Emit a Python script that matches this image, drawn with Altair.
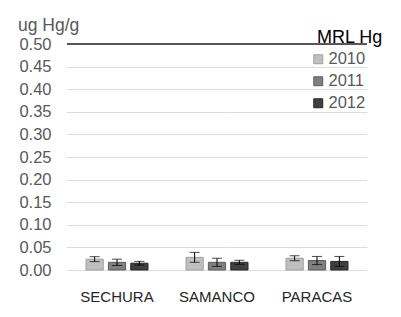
import altair as alt
import pandas as pd

sites = ["SECHURA", "SAMANCO", "PARACAS"]
years = ["2010", "2011", "2012"]
means = {
    "SECHURA": [0.024, 0.017, 0.015],
    "SAMANCO": [0.028, 0.017, 0.017],
    "PARACAS": [0.026, 0.021, 0.019],
}
errs = {
    "SECHURA": [0.0055, 0.007, 0.004],
    "SAMANCO": [0.011, 0.009, 0.0045],
    "PARACAS": [0.0055, 0.009, 0.011],
}
mrl_value = 0.50
mrl_label = "MRL Hg"
y_title = "ug Hg/g"
y_ticks = [0.00, 0.05, 0.10, 0.15, 0.20, 0.25, 0.30, 0.35, 0.40, 0.45, 0.50]
colors = ["#bfbfbf", "#7f7f7f", "#404040"]
strokes = ["#a0a0a0", "#5e5e5e", "#262626"]

rows = []
for s in sites:
    for i, y in enumerate(years):
        m = means[s][i]
        e = errs[s][i]
        rows.append({"site": s, "year": y, "value": m, "lo": m - e, "hi": m + e})
df = pd.DataFrame(rows)

xenc = alt.X("site:N", sort=sites, title=None,
             scale=alt.Scale(paddingInner=0.38, paddingOuter=0.19),
             axis=alt.Axis(labelFontSize=15, labelColor="#262626", labelFont="Liberation Sans",
                           ticks=False, domain=False, labelPadding=19, labelAngle=0))
xoff = alt.XOffset("year:N", sort=years, scale=alt.Scale(paddingInner=0.23, paddingOuter=0))
yscale = alt.Scale(domain=[0, 0.5], nice=False)
yaxis = alt.Axis(values=y_ticks, format=".2f",
                 labelFontSize=16.5, labelColor="#595959", labelFont="Liberation Sans",
                 labelOverlap=False, labelBound=False,
                 ticks=False, domain=False, labelPadding=16,
                 grid=True, gridColor="#b8b8b8", gridDash=[1, 1])

bars = alt.Chart(df).mark_bar(strokeWidth=1).encode(
    x=xenc,
    xOffset=xoff,
    y=alt.Y("value:Q", scale=yscale, title=None, axis=yaxis),
    fill=alt.Fill("year:N", sort=years, scale=alt.Scale(domain=years, range=colors),
                  legend=alt.Legend(title=None, orient="none", legendX=243, legendY=7,
                                    labelFontSize=16.5, labelColor="#595959", labelFont="Liberation Sans",
                                    symbolType="square", symbolSize=80, symbolStrokeWidth=1,
                                    symbolStrokeColor="#6a6a6a",
                                    rowPadding=5, labelOffset=2)),
    stroke=alt.Stroke("year:N", sort=years, scale=alt.Scale(domain=years, range=strokes), legend=None),
)

err_rule = alt.Chart(df).mark_rule(color="#000000", strokeWidth=1).encode(
    x=alt.X("site:N", sort=sites), xOffset=xoff,
    y=alt.Y("lo:Q", scale=yscale, title=None, axis=yaxis), y2="hi:Q",
)
cap_hi = alt.Chart(df).mark_tick(color="#000000", thickness=1, size=10, orient="horizontal").encode(
    x=alt.X("site:N", sort=sites), xOffset=xoff, y=alt.Y("hi:Q", scale=yscale, title=None, axis=yaxis),
)
cap_lo = alt.Chart(df).mark_tick(color="#000000", thickness=1, size=10, orient="horizontal").encode(
    x=alt.X("site:N", sort=sites), xOffset=xoff, y=alt.Y("lo:Q", scale=yscale, title=None, axis=yaxis),
)

mrl = alt.Chart(pd.DataFrame({"mrl": [mrl_value]})).mark_rule(color="#262626", strokeWidth=1.5).encode(
    y=alt.Y("mrl:Q", scale=yscale, title=None, axis=yaxis)
)

mrl_txt = alt.Chart(pd.DataFrame({"t": [mrl_label]})).mark_text(
    align="left", baseline="middle", fontSize=18, color="#000000", font="Liberation Sans"
).encode(text="t:N", x=alt.value(250), y=alt.value(-6))

title_txt = alt.Chart(pd.DataFrame({"t": [y_title]})).mark_text(
    align="left", baseline="bottom", fontSize=17.5, color="#595959", font="Liberation Sans"
).encode(text="t:N", x=alt.value(-49), y=alt.value(-9))

chart = alt.layer(bars, err_rule, cap_hi, cap_lo, mrl, mrl_txt, title_txt).properties(
    width=300, height=226,
    autosize=alt.AutoSizeParams(type="none"),
    padding={"left": 59, "top": 36, "right": 26, "bottom": 39},
).configure_view(stroke=None).configure_axisY(labelOverlap=False)

chart.save("out.html", embed_options={"renderer": "svg", "actions": False})
